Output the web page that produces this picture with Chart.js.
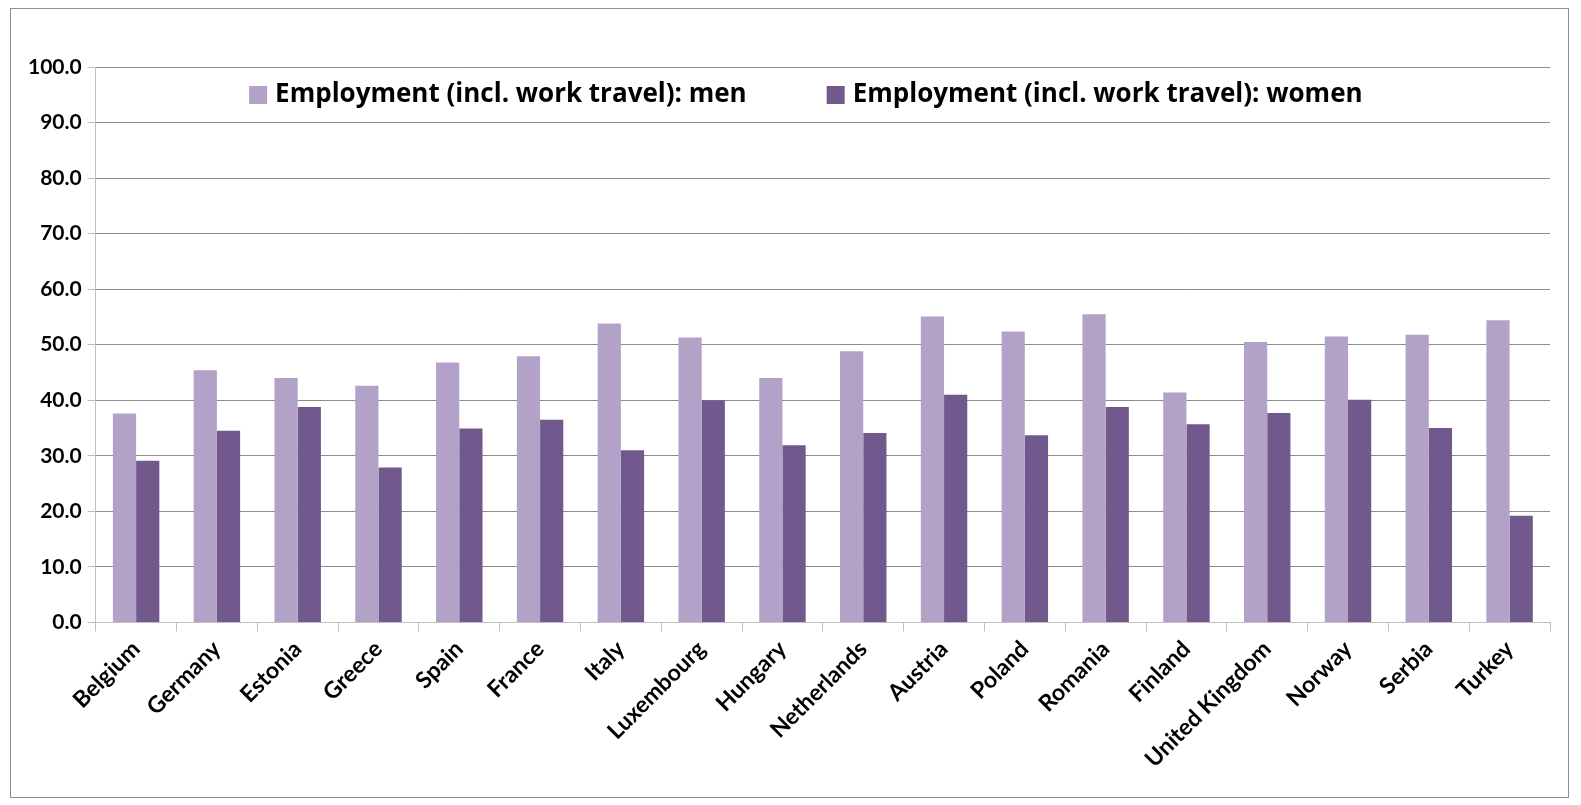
<!DOCTYPE html>
<html>
<head>
<meta charset="utf-8">
<script src="https://cdn.jsdelivr.net/npm/chart.js@4.4.1/dist/chart.umd.min.js"></script>
<style>
  html, body { margin: 0; padding: 0; background: #fff; }
  #frame {
    position: absolute; left: 10px; top: 8px;
    width: 1557px; height: 788px;
    border: 1px solid #8c8c8c;
  }
</style>
</head>
<body>
<div id="frame"><canvas id="chart"></canvas></div>
<script>
  // Chart data
  const countries = ['Belgium', 'Germany', 'Estonia', 'Greece', 'Spain', 'France', 'Italy',
    'Luxembourg', 'Hungary', 'Netherlands', 'Austria', 'Poland', 'Romania', 'Finland',
    'United Kingdom', 'Norway', 'Serbia', 'Turkey'];
  const menValues = [37.6, 45.4, 44.0, 42.6, 46.8, 47.9, 53.8, 51.3, 44.0, 48.8, 55.1, 52.4,
    55.5, 41.4, 50.5, 51.5, 51.8, 54.4];
  const womenValues = [29.1, 34.5, 38.8, 27.9, 34.9, 36.5, 31.0, 40.0, 31.9, 34.1, 41.0, 33.7,
    38.8, 35.7, 37.7, 40.1, 35.0, 19.2];
  const menLabel = 'Employment (incl. work travel): men';
  const womenLabel = 'Employment (incl. work travel): women';

  const fontFamily = 'Lato, "Open Sans", "Liberation Sans", sans-serif';

  // legend drawn inside the plot area, at the top (like the Excel chart)
  const insideLegend = {
    id: 'insideLegend',
    afterDraw(chart) {
      const c = chart.ctx;
      const area = chart.chartArea;
      const sets = chart.data.datasets;
      const box = 18, gap = 8, itemGap = 80;
      c.save();
      c.font = 'bold 26px "Open Sans", Lato, sans-serif';
      c.textBaseline = 'middle';
      c.fillStyle = '#000';
      const widths = sets.map(ds => box + gap + c.measureText(ds.label).width);
      const total = widths.reduce((a, b) => a + b, 0) + itemGap * (sets.length - 1);
      let x = (area.left + area.right) / 2 - 17 - total / 2;
      const y = area.top + 28;
      sets.forEach((ds, i) => {
        c.fillStyle = ds.backgroundColor;
        c.fillRect(x, y - box / 2, box, box);
        c.fillStyle = '#000';
        c.fillText(ds.label, x + box + gap, y);
        x += widths[i] + itemGap;
      });
      c.restore();
    }
  };

  const ctx = document.getElementById('chart').getContext('2d');
  new Chart(ctx, {
    type: 'bar',
    data: {
      labels: countries,
      datasets: [
        {
          label: menLabel,
          data: menValues,
          backgroundColor: '#b3a2c7',
          borderWidth: 0
        },
        {
          label: womenLabel,
          data: womenValues,
          backgroundColor: '#71598e',
          borderWidth: 0
        }
      ]
    },
    plugins: [insideLegend],
    options: {
      responsive: true,
      maintainAspectRatio: false,
      animation: false,
      layout: {
        padding: { top: 58, right: 18, bottom: 20, left: 11 }
      },
      datasets: {
        bar: {
          barPercentage: 1.0,
          categoryPercentage: 0.575
        }
      },
      plugins: {
        legend: { display: false },
        tooltip: { enabled: false }
      },
      scales: {
        y: {
          min: 0,
          max: 100,
          ticks: {
            stepSize: 10,
            color: '#000',
            padding: 6,
            font: { family: fontFamily, size: 21, weight: 'bold' },
            callback: (v) => v.toFixed(1)
          },
          grid: {
            color: '#8c8c8c',
            tickLength: 8,
            tickColor: '#bfbfbf'
          },
          border: { color: '#bfbfbf' }
        },
        x: {
          ticks: {
            color: '#000',
            maxRotation: 45,
            minRotation: 45,
            padding: 4,
            font: { family: fontFamily, size: 23, weight: 'bold' }
          },
          grid: {
            offset: true,
            drawOnChartArea: false,
            tickLength: 9,
            color: '#bfbfbf'
          },
          border: { color: '#bfbfbf' }
        }
      }
    }
  });
</script>
</body>
</html>
